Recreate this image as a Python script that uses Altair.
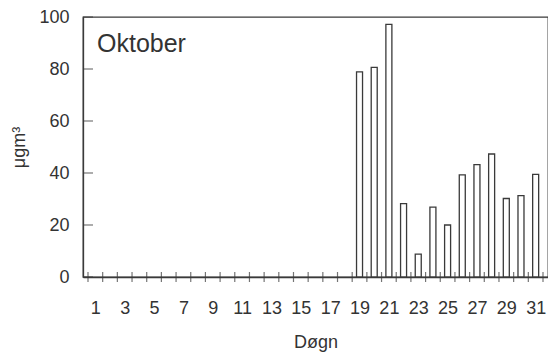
import altair as alt
import pandas as pd

days = list(range(1, 32))
values = [0]*18 + [78.9, 80.6, 97.2, 28.2, 8.8, 26.9, 20.0, 39.3, 43.2, 47.3, 30.2, 31.3, 39.5]
x_tick_edges = [d + 0.5 for d in range(0, 32)]
x_labels = list(range(1, 32, 2))
y_ticks = [0, 20, 40, 60, 80, 100]

INK = "#3a3a3a"
FONT = "Liberation Sans"

bars_df = pd.DataFrame({"day": days, "value": values})
bars_df = bars_df[bars_df["value"] > 0]
xt_df = pd.DataFrame({"edge": x_tick_edges, "zero": [0]*len(x_tick_edges)})
yt_df = pd.DataFrame({"v": y_ticks, "left": [0.5]*len(y_ticks)})

xscale = alt.Scale(domain=[0.5, 31.5], nice=False, zero=False)
yscale = alt.Scale(domain=[0, 100], nice=False)

xaxis = alt.Axis(values=x_labels, tickSize=0, labelPadding=22, grid=False,
                 labelOverlap=False, labelFlush=False, labelBound=False,
                 title="Døgn", titlePadding=16, format="d")
yaxis = alt.Axis(values=y_ticks, tickSize=0, labelPadding=14, grid=False,
                 labelOverlap=False, labelFlush=False,
                 title="μgm³", titlePadding=10)

bars = alt.Chart(bars_df).mark_bar(size=6, fill="white", stroke=INK, strokeWidth=1.3).encode(
    x=alt.X("day:Q", scale=xscale, axis=xaxis),
    y=alt.Y("value:Q", scale=yscale, axis=yaxis),
)

xticks = alt.Chart(xt_df).mark_tick(orient="vertical", size=10, thickness=1.2, color=INK).encode(
    x=alt.X("edge:Q", scale=xscale, axis=xaxis),
    y=alt.Y("zero:Q", scale=yscale, axis=yaxis),
)

yticks = alt.Chart(yt_df).mark_tick(orient="horizontal", size=10, thickness=1.2, color=INK).encode(
    x=alt.X("left:Q", scale=xscale, axis=xaxis),
    y=alt.Y("v:Q", scale=yscale, axis=yaxis),
)

label = alt.Chart(pd.DataFrame({"t": ["Oktober"]})).mark_text(
    align="left", baseline="alphabetic", fontSize=25, font=FONT, color="#333"
).encode(x=alt.value(14), y=alt.value(35), text="t:N")

chart = alt.layer(bars, xticks, yticks, label).properties(
    width=465, height=260,
    background="white",
    autosize=alt.AutoSizeParams(type="none"),
    padding={"left": 75, "top": 9, "right": 0, "bottom": 80},
).configure_view(stroke=INK, strokeWidth=1.3).configure_axis(
    domainColor=INK, domainWidth=1.3, labelFont=FONT, titleFont=FONT,
    labelFontSize=18, titleFontSize=18, labelColor="#333", titleColor="#333",
    titleFontWeight="normal", labelOverlap=False,
)

chart.save("out.html", embed_options={"renderer": "svg", "actions": False})
